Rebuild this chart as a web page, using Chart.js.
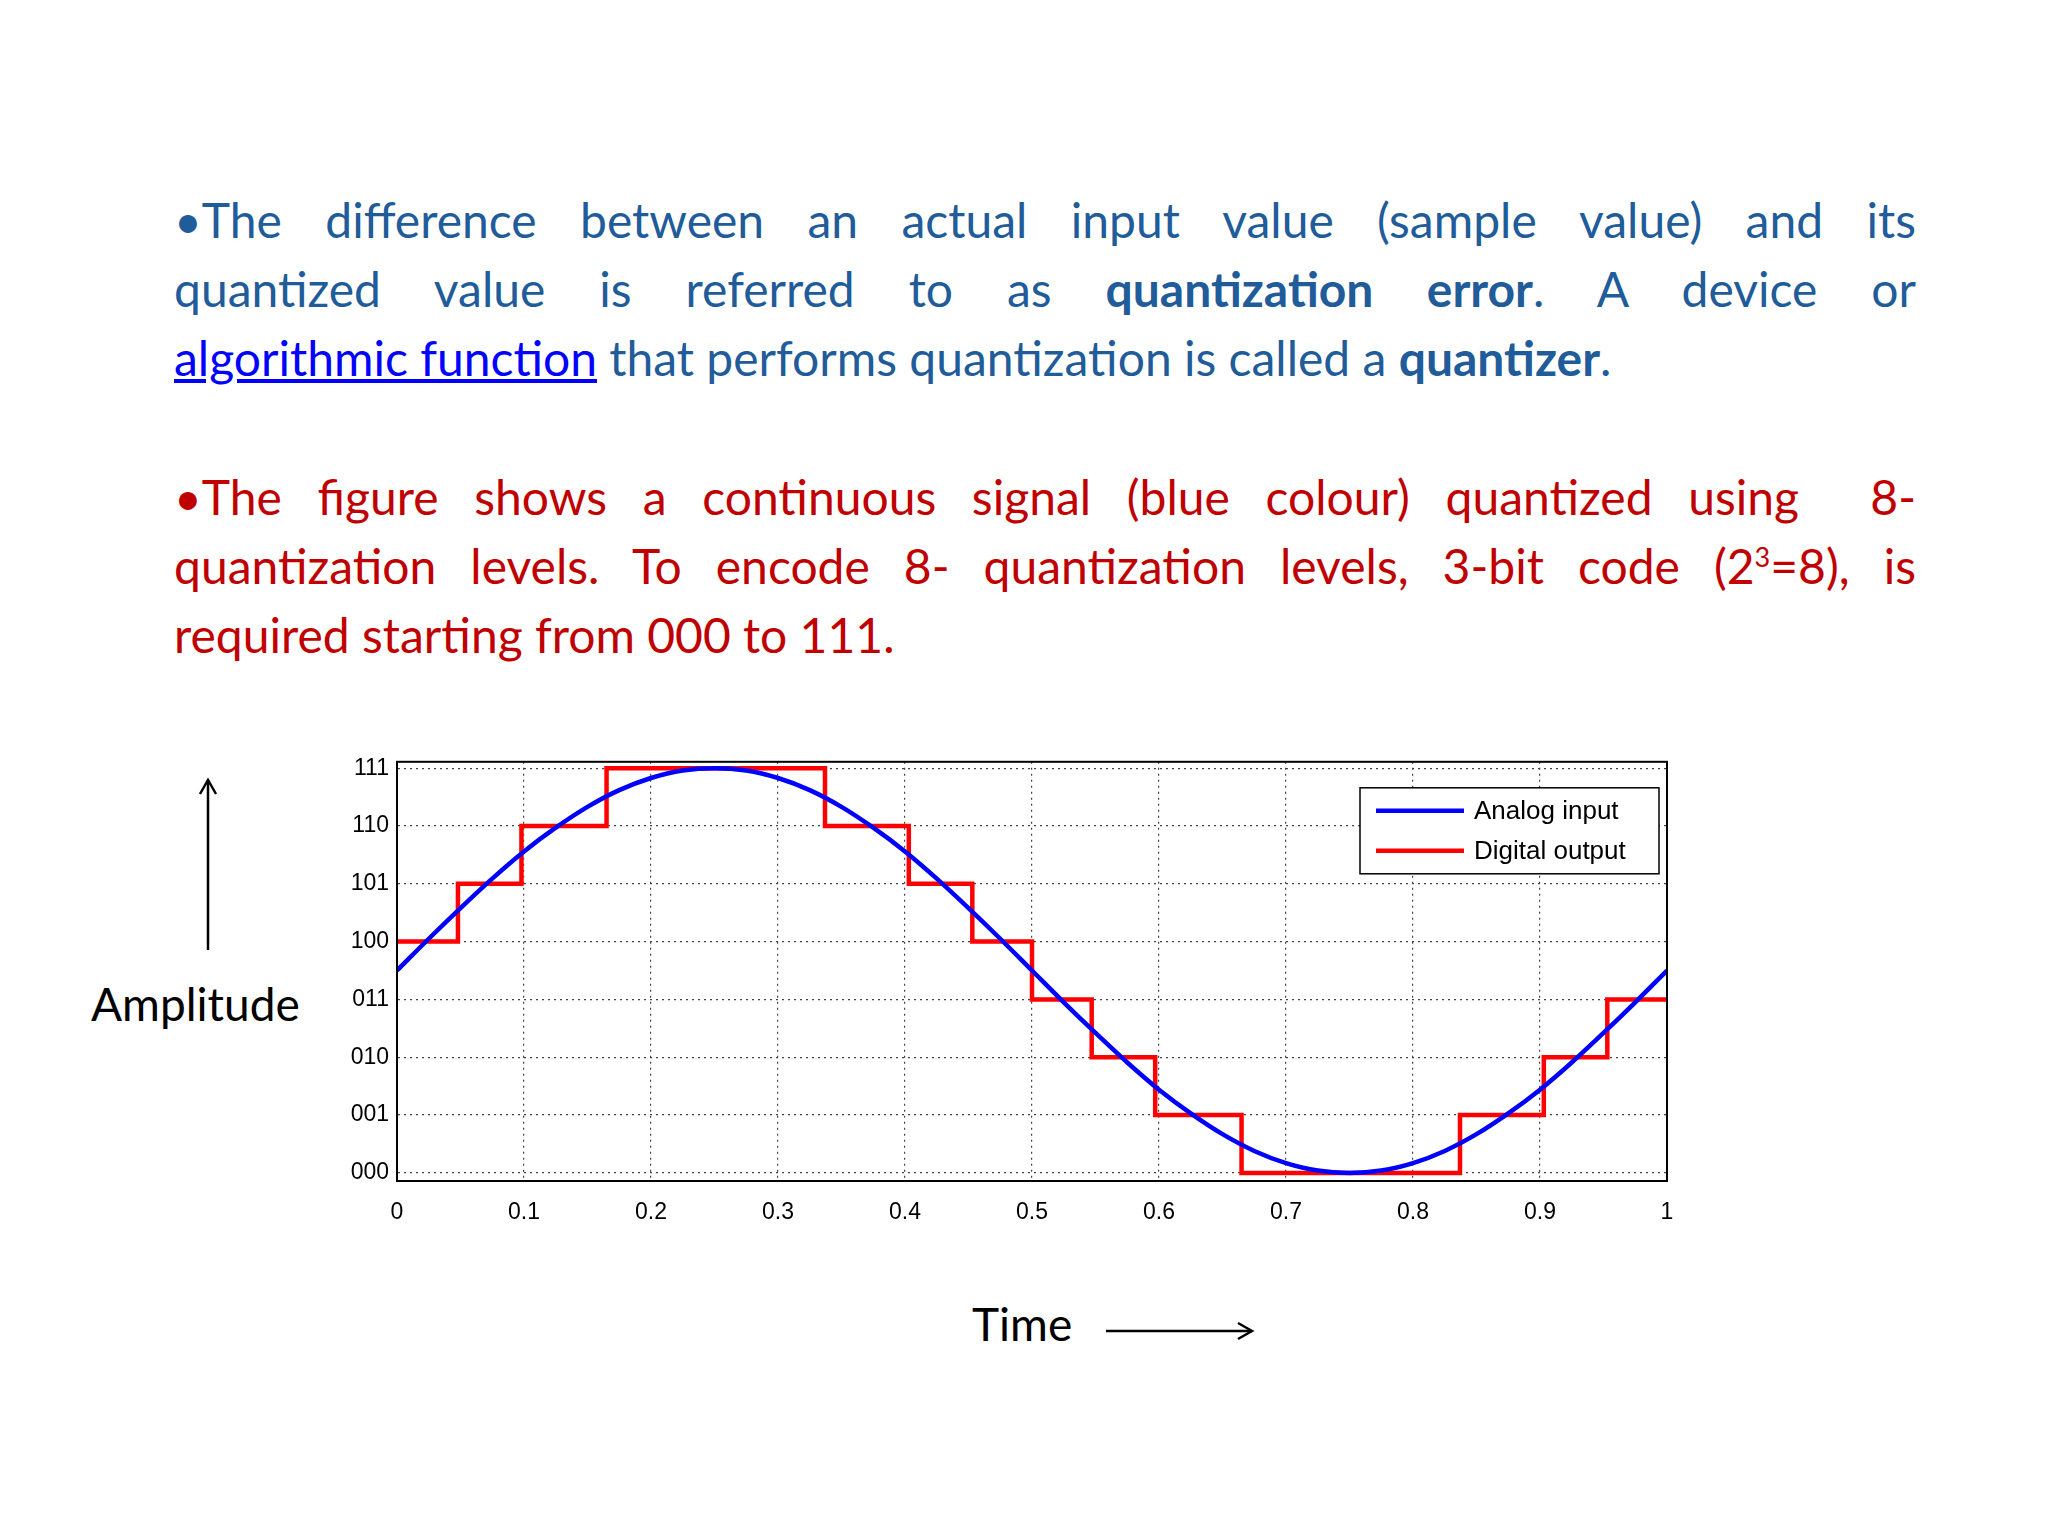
<!DOCTYPE html>
<html><head><meta charset="utf-8">
<script src="https://cdn.jsdelivr.net/npm/chart.js@4/dist/chart.umd.min.js"></script>
<style>
body{margin:0;width:2048px;height:1536px;background:#fff;position:relative;font-family:Lato,"Open Sans",sans-serif;overflow:hidden}
.l{position:absolute;left:174px;width:1742px;font-size:48px;line-height:60px;white-space:nowrap}
.j{text-align:justify;text-align-last:justify}
.b{color:#1f5c99}.r{color:#c00000}
a{color:#0000ff;text-decoration:underline}
#cw{position:absolute;left:320px;top:740px;width:1390px;height:500px}
.t{position:absolute;font-size:46px;color:#000}
</style></head><body>
<div class="l b j" style="top:190px">•The difference between an actual input value (sample value) and its</div>
<div class="l b j" style="top:259px">quantized value is referred to as <b>quantization error</b>. A device or</div>
<div class="l b" style="top:328px"><a>algorithmic function</a> that performs quantization is called a <b>quantizer</b>.</div>
<div class="l r j" style="top:467px">•The figure shows a continuous signal (blue colour) quantized using &nbsp;8-</div>
<div class="l r j" style="top:536px">quantization levels. To encode 8- quantization levels, 3-bit code (2<sup style="font-size:27px;line-height:0">3</sup>=8), is</div>
<div class="l r" style="top:605px">required starting from 000 to 111.</div>
<div class="t" style="left:91px;top:976px">Amplitude</div>
<div class="t" style="left:972px;top:1296px">Time</div>
<svg style="position:absolute;left:0;top:0" width="2048" height="1536">
<g stroke="#000" stroke-width="2.5" fill="none">
<line x1="208" y1="950" x2="208" y2="780"/><polyline points="200,794 208,780 216,794"/>
<line x1="1106" y1="1331" x2="1252" y2="1331"/><polyline points="1238,1323 1252,1331 1238,1339"/>
</g></svg>
<div id="cw"><canvas id="c"></canvas></div>
<script>
const timeAnalog=[0,0.025,0.05,0.075,0.1,0.125,0.15,0.175,0.2,0.225,0.25,0.275,0.3,0.325,0.35,0.375,0.4,0.425,0.45,0.475,0.5,0.525,0.55,0.575,0.6,0.625,0.65,0.675,0.7,0.725,0.75,0.775,0.8,0.825,0.85,0.875,0.9,0.925,0.95,0.975,1];
const analogValues=[3.5,4.05,4.58,5.09,5.56,5.97,6.33,6.62,6.83,6.96,7,6.96,6.83,6.62,6.33,5.97,5.56,5.09,4.58,4.05,3.5,2.95,2.42,1.91,1.44,1.03,0.67,0.38,0.17,0.04,0,0.04,0.17,0.38,0.67,1.03,1.44,1.91,2.42,2.95,3.5];
const timeDigital=[0,0.048,0.098,0.165,0.337,0.403,0.453,0.5,0.547,0.597,0.665,0.837,0.903,0.953,1];
const digitalValues=[4,5,6,7,6,5,4,3,2,1,0,1,2,3,3];
const yTickLabels=['000','001','010','011','100','101','110','111'];
const xTickLabels=['0','0.1','0.2','0.3','0.4','0.5','0.6','0.7','0.8','0.9','1'];

const legendPlugin={id:'lg',afterDraw(ch){
  const ctx=ch.ctx,ca=ch.chartArea;
  const x=ca.right-307,y=ca.top+26,w=299,h=86;
  ctx.save();ctx.fillStyle='#fff';ctx.fillRect(x,y,w,h);
  ctx.strokeStyle='#000';ctx.lineWidth=1.5;ctx.strokeRect(x,y,w,h);
  ch.data.datasets.forEach((d,i)=>{const yy=y+23+i*40;
    ctx.strokeStyle=d.borderColor;ctx.lineWidth=4.5;ctx.beginPath();ctx.moveTo(x+16,yy);ctx.lineTo(x+104,yy);ctx.stroke();
    ctx.fillStyle='#000';ctx.font='26px "Liberation Sans", sans-serif';ctx.textBaseline='middle';ctx.fillText(d.label,x+114,yy+1);});
  ctx.restore();}};

new Chart(document.getElementById('c'),{
 type:'line',
 data:{datasets:[
  {label:'Analog input',data:timeAnalog.map((t,i)=>({x:t,y:analogValues[i]})),borderColor:'#0000ff',borderWidth:4.5,pointRadius:0,cubicInterpolationMode:'monotone'},
  {label:'Digital output',data:timeDigital.map((t,i)=>({x:t,y:digitalValues[i]})),borderColor:'#ff0000',borderWidth:4.5,pointRadius:0,stepped:'before'}
 ]},
 options:{responsive:true,maintainAspectRatio:false,animation:false,
  layout:{padding:{top:21,right:43}},
  plugins:{legend:{display:false},tooltip:{enabled:false}},
  scales:{
   x:{type:'linear',min:0,max:1,
     afterBuildTicks(s){s.ticks=xTickLabels.map((l,i)=>({value:i/10}));},
     afterFit(s){s.height=59;},
     ticks:{color:'#000',font:{size:23,family:'"Liberation Sans", sans-serif'},padding:18,maxRotation:0,callback:(v,i)=>xTickLabels[i]},
     grid:{color:'#444',lineWidth:1.2,drawTicks:false},
     border:{display:true,color:'#000',width:2,dash:[2,4]}},
   y:{type:'linear',min:-0.14,max:7.11,
     afterBuildTicks(s){s.ticks=yTickLabels.map((l,i)=>({value:i}));},
     afterFit(s){s.width=77;},
     ticks:{color:'#000',font:{size:23,family:'"Liberation Sans", sans-serif'},padding:8,callback:(v,i)=>yTickLabels[i]},
     grid:{color:'#444',lineWidth:1.2,drawTicks:false},
     border:{display:true,color:'#000',width:2,dash:[2,4]}}
  }},
 plugins:[legendPlugin,{id:'box',
  afterDraw(ch){const c=ch.ctx,a=ch.chartArea;c.save();c.strokeStyle='#000';c.lineWidth=2;c.setLineDash([]);c.strokeRect(a.left,a.top,a.right-a.left,a.bottom-a.top);c.restore();}}]
});
</script>
</body></html>
